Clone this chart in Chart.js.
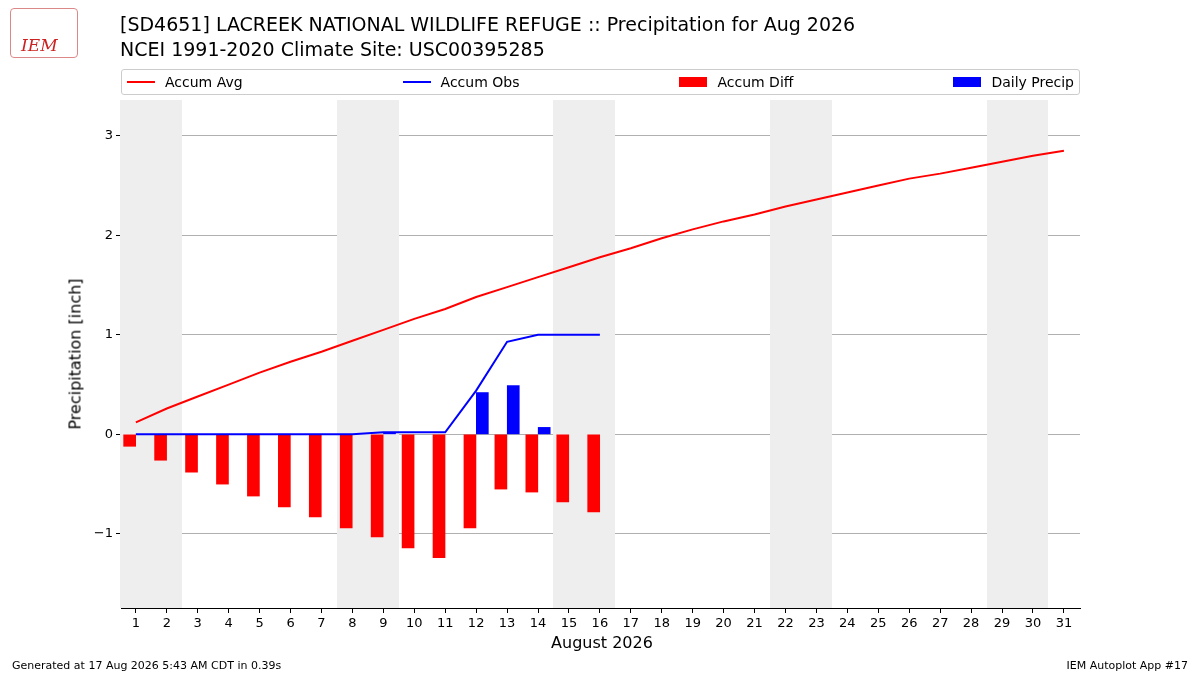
<!DOCTYPE html>
<html>
<head>
<meta charset="utf-8">
<script src="https://cdn.jsdelivr.net/npm/chart.js@4"></script>
<style>
  body { margin: 0; width: 1200px; height: 675px; position: relative; background: #fff; font-family: "DejaVu Sans", sans-serif; overflow: hidden; color: #000; }
  #wrap { position: absolute; left: 0; top: 0; width: 1200px; height: 675px; }
  .title { position: absolute; left: 120px; top: 12px; font-size: 19px; line-height: 25px; color: #000; }
  .legend { position: absolute; left: 121px; top: 69px; width: 959px; height: 26px; border: 1px solid #ccc; border-radius: 3px; display: flex; justify-content: space-between; align-items: center; font-size: 14px; padding: 0 5px; box-sizing: border-box; }
  .legend span { display: inline-flex; align-items: center; }
  .line { display: inline-block; width: 28px; height: 2px; margin-right: 10px; }
  .box { display: inline-block; width: 28px; height: 10px; margin-right: 10px; }
  .foot { position: absolute; top: 659px; font-size: 11px; }
  .xt { position: absolute; left: 0; width: 1200px; text-align: center; top: 633px; font-size: 16px; padding-left: 2px; }
  .yt { position: absolute; left: 75px; top: 354px; font-size: 16px; color: #000; transform: translate(-50%, -50%) rotate(-90deg); white-space: nowrap; }
  .logo { position: absolute; left: 10px; top: 8px; width: 66px; height: 48px; border: 1px solid #d88; border-radius: 4px; color: #c22; font-family: "DejaVu Serif", serif; font-style: italic; font-size: 17px; }
</style>
</head>
<body>
<div id="wrap"><canvas id="chart" width="1200" height="675"></canvas></div>
<div class="logo"><span style="position:absolute;left:10px;top:26px">IEM</span></div>
<div class="title">[SD4651] LACREEK NATIONAL WILDLIFE REFUGE :: Precipitation for Aug 2026<br>NCEI 1991-2020 Climate Site: USC00395285</div>
<div class="legend">
  <span><i class="line" style="background:#f00"></i>Accum Avg</span>
  <span><i class="line" style="background:#00f"></i>Accum Obs</span>
  <span><i class="box" style="background:#f00"></i>Accum Diff</span>
  <span><i class="box" style="background:#00f"></i>Daily Precip</span>
</div>
<div class="xt">August 2026</div>
<div class="yt">Precipitation [inch]</div>
<div class="foot" style="left:12px">Generated at 17 Aug 2026 5:43 AM CDT in 0.39s</div>
<div class="foot" style="right:12px">IEM Autoplot App #17</div>
<script>
const days = Array.from({ length: 31 }, (_, i) => i + 1);
const accumAvg = [0.12, 0.26, 0.38, 0.50, 0.62, 0.73, 0.83, 0.94, 1.05, 1.16, 1.26, 1.38, 1.48, 1.58, 1.68, 1.78,
  1.87, 1.97, 2.06, 2.14, 2.21, 2.29, 2.36, 2.43, 2.50, 2.57, 2.62, 2.68, 2.74, 2.80, 2.85];
const accumObs = [0, 0, 0, 0, 0, 0, 0, 0, 0.02, 0.02, 0.02, 0.44, 0.93, 1.00, 1.00, 1.00];
const accumDiff = [-0.12, -0.26, -0.38, -0.50, -0.62, -0.73, -0.83, -0.94, -1.03, -1.14, -1.24, -0.94, -0.55, -0.58, -0.68, -0.78];
const dailyPrecip = [0, 0, 0, 0, 0, 0, 0, 0, 0.02, 0, 0, 0.42, 0.49, 0.07, 0, 0];
const weekendDays = [1, 2, 8, 9, 15, 16, 22, 23, 29, 30];
const yTicks = [-1, 0, 1, 2, 3];

const weekendShade = {
  id: 'weekendShade',
  beforeDatasetsDraw(chart) {
    const { ctx, chartArea, scales: { x } } = chart;
    ctx.save();
    ctx.fillStyle = '#eeeeee';
    weekendDays.forEach(d => {
      if (weekendDays.includes(d - 1)) return;
      let e = d;
      while (weekendDays.includes(e + 1)) e++;
      const a = Math.round(x.getPixelForValue(d - 0.5)), b = Math.round(x.getPixelForValue(e + 0.5));
      ctx.fillRect(a, chartArea.top, b - a, chartArea.bottom - chartArea.top);
    });
    ctx.restore();
  }
};

new Chart(document.getElementById('chart'), {
  type: 'bar',
  data: {
    datasets: [
      { type: 'line', label: 'Accum Avg', data: days.map((d, i) => ({ x: d, y: accumAvg[i] })), borderColor: '#f00', borderWidth: 2, pointRadius: 0, order: 1 },
      { type: 'line', label: 'Accum Obs', data: accumObs.map((v, i) => ({ x: i + 1, y: v })), borderColor: '#00f', borderWidth: 2, pointRadius: 0, order: 1 },
      { label: 'Accum Diff', data: accumDiff.map((v, i) => ({ x: i + 1 - 0.2, y: v })), backgroundColor: '#f00', barThickness: 12, grouped: false, order: 2 },
      { label: 'Daily Precip', data: dailyPrecip.map((v, i) => ({ x: i + 1 + 0.2, y: v || null })), backgroundColor: '#00f', barThickness: 12, grouped: false, order: 2 }
    ]
  },
  options: {
    responsive: false,
    animation: false,
    layout: { padding: { top: 100, right: 120, left: 0, bottom: 0 } },
    plugins: { legend: { display: false }, tooltip: { enabled: false } },
    scales: {
      x: {
        type: 'linear', min: 0.52, max: 31.52, offset: false,
        grid: { display: true, offset: false, drawOnChartArea: false, tickLength: 5, tickColor: '#000' },
        border: { color: '#000' },
        ticks: { autoSkip: false, color: '#000', font: { family: 'DejaVu Sans', size: 13 } },
        afterFit: s => { s.height = 67; },
        afterBuildTicks: s => { s.ticks = days.map(v => ({ value: v })); }
      },
      y: {
        min: -1.745, max: 3.36,
        grid: { color: '#b0b0b0', tickLength: 5, tickColor: '#000' },
        border: { color: '#000' },
        afterBuildTicks: s => { s.ticks = yTicks.map(v => ({ value: v })); },
        ticks: { color: '#000', font: { family: 'DejaVu Sans', size: 13 }, callback: v => String(v).replace('-', '\u2212') },
        afterFit: s => { s.width = 121; }
      }
    }
  },
  plugins: [weekendShade]
});
</script>
</body>
</html>
